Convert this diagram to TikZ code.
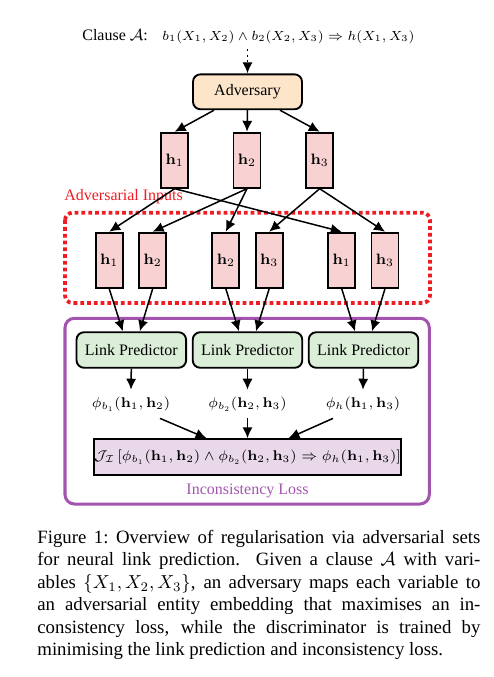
\RequirePackage{fix-cm}
\documentclass[tikz,border=0pt]{standalone}
\usepackage[no-math]{fontspec}
\setmainfont{Liberation Serif}
\usetikzlibrary{arrows.meta,calc}
\definecolor{advfill}{HTML}{FDE5CA}
\definecolor{hfill}{HTML}{F8D2D2}
\definecolor{lpfill}{HTML}{DBEED8}
\definecolor{jfill}{HTML}{E8D8EA}
\definecolor{lossc}{HTML}{A254AE}
\definecolor{advred}{HTML}{EE1D23}
\begin{document}
\begin{tikzpicture}[x=0.532pt,y=-0.532pt,
  dfont/.style={font=\fontsize{8.5}{10}\selectfont},
  mfont/.style={font=\fontsize{7.5}{9}\selectfont},
  arr/.style={-{Latex[length=5.8pt,width=5.4pt]}, line width=0.8pt},
  advbox/.style={draw, line width=1pt, rounded corners=4pt, fill=advfill, minimum width=58pt, minimum height=18.6pt, inner sep=0pt, dfont},
  hbox/.style={draw, line width=1pt, fill=hfill, minimum width=14.4pt, minimum height=29.3pt, inner sep=0pt, font=\fontsize{8}{9}\selectfont},
  lpbox/.style={draw, line width=1pt, rounded corners=4pt, fill=lpfill, minimum width=58.3pt, minimum height=18.9pt, inner sep=0pt, dfont},
  jbox/.style={draw, line width=1pt, fill=jfill, minimum width=158.5pt, minimum height=19.2pt, inner sep=0pt, mfont},
  phinode/.style={minimum height=14.9pt, inner sep=0pt, mfont},
  ]
\useasboundingbox (0,0) rectangle (493,677);

% frames
\draw[advred, line width=2pt, dash pattern=on 2pt off 1.6pt, rounded corners=4pt] (65,212.7) rectangle (430,303);
\draw[lossc, line width=1.6pt, rounded corners=5pt] (65,318.3) rectangle (429.3,504);

% header
\node[dfont, anchor=base west, inner sep=0pt] (clause) at (82,40) {Clause $\mathcal{A}$:};
\node[font=\fontsize{7.05}{9}\selectfont, anchor=base west, inner sep=0pt] (formula) at (162,40) {$b_1(X_1,X_2)\wedge b_2(X_2,X_3)\Rightarrow h(X_1,X_3)$};
\coordinate (clausebot) at (247.5,49);

\node[advbox] (adv) at (247.5,91.8) {Adversary};
\draw[dotted, line width=1pt, -{Latex[length=5.8pt,width=5.4pt]}] (clausebot) -- (adv.north);

% top row
\node[hbox] (h1) at (174.7,160.2) {$\mathbf{h}_1$};
\node[hbox] (h2) at (247,160.2) {$\mathbf{h}_2$};
\node[hbox] (h3) at (319.7,160.2) {$\mathbf{h}_3$};

\draw[arr] ($(adv.south)+(-33.5,0)$) -- (h1.north);
\draw[arr] (adv.south) -- (h2.north);
\draw[arr] ($(adv.south)+(32.5,0)$) -- (h3.north);

\node[dfont, text=advred, anchor=base west, inner sep=0pt] (advlab) at (64,200.5) {Adversarial Inputs};

% second row
\node[hbox] (a1) at (109.2,260.2) {$\mathbf{h}_1$};
\node[hbox] (a2) at (152.7,260.2) {$\mathbf{h}_2$};
\node[hbox] (b2) at (225.8,260.2) {$\mathbf{h}_2$};
\node[hbox] (b3) at (269.2,260.2) {$\mathbf{h}_3$};
\node[hbox] (c1) at (341.7,260.2) {$\mathbf{h}_1$};
\node[hbox] (c3) at (385,260.2) {$\mathbf{h}_3$};

\draw[arr] (h1.south) -- (a1.north);
\draw[arr] (h1.south) -- (c1.north);
\draw[arr] (h2.south) -- (a2.north);
\draw[arr] (h2.south) -- (b2.north);
\draw[arr] (h3.south) -- (b3.north);
\draw[arr] (h3.south) -- (c3.north);

% link predictors
\node[lpbox] (lp1) at (131.3,350) {Link Predictor};
\node[lpbox] (lp2) at (247.5,350) {Link Predictor};
\node[lpbox] (lp3) at (363.5,350) {Link Predictor};

\draw[arr] (a1.south) -- ($(lp1.north)+(-8.5,0)$);
\draw[arr] (a2.south) -- ($(lp1.north)+(8.5,0)$);
\draw[arr] (b2.south) -- ($(lp2.north)+(-8.5,0)$);
\draw[arr] (b3.south) -- ($(lp2.north)+(8.5,0)$);
\draw[arr] (c1.south) -- ($(lp3.north)+(-8.5,0)$);
\draw[arr] (c3.south) -- ($(lp3.north)+(8.5,0)$);

% phi outputs
\node[phinode] (p1) at (131,404) {$\phi_{b_1}(\mathbf{h}_1,\mathbf{h}_2)$};
\node[phinode] (p2) at (247.5,404) {$\phi_{b_2}(\mathbf{h}_2,\mathbf{h}_3)$};
\node[phinode] (p3) at (363,404) {$\phi_{h}(\mathbf{h}_1,\mathbf{h}_3)$};

\draw[arr] (lp1.south) -- (p1.north);
\draw[arr] (lp2.south) -- (p2.north);
\draw[arr] (lp3.south) -- (p3.north);

% inconsistency
\node[jbox] (J) at (247.5,457.2) {$\mathcal{J}_{\mathcal{I}}\,[\phi_{b_1}(\mathbf{h}_1,\mathbf{h}_2)\wedge\phi_{b_2}(\mathbf{h}_2,\mathbf{h}_3)\Rightarrow\phi_{h}(\mathbf{h}_1,\mathbf{h}_3)]$};

\draw[arr] ($(p1.south)+(29,0)$) -- ($(J.north)+(-41,0)$);
\draw[arr] (p2.south) -- (J.north);
\draw[arr] ($(p3.south)+(-30,0)$) -- ($(J.north)+(41,0)$);

\node[dfont, text=lossc, inner sep=0pt] (losslab) at (247.5,490.5) {Inconsistency Loss};

% caption
\node[anchor=north west, inner sep=0pt, text width=235.7pt, align=justify, font=\fontsize{10}{12}\selectfont] (cap) at (37,529.5) {Figure 1:\ Overview of regularisation via adversarial sets\linebreak for neural link prediction. Given a clause $\mathcal{A}$ with vari-\linebreak ables $\{X_1, X_2, X_3\}$, an adversary maps each variable to\linebreak an adversarial entity embedding that maximises an in-\linebreak consistency loss, while the discriminator is trained by\linebreak minimising the link prediction and inconsistency loss.};
\end{tikzpicture}
\end{document}
